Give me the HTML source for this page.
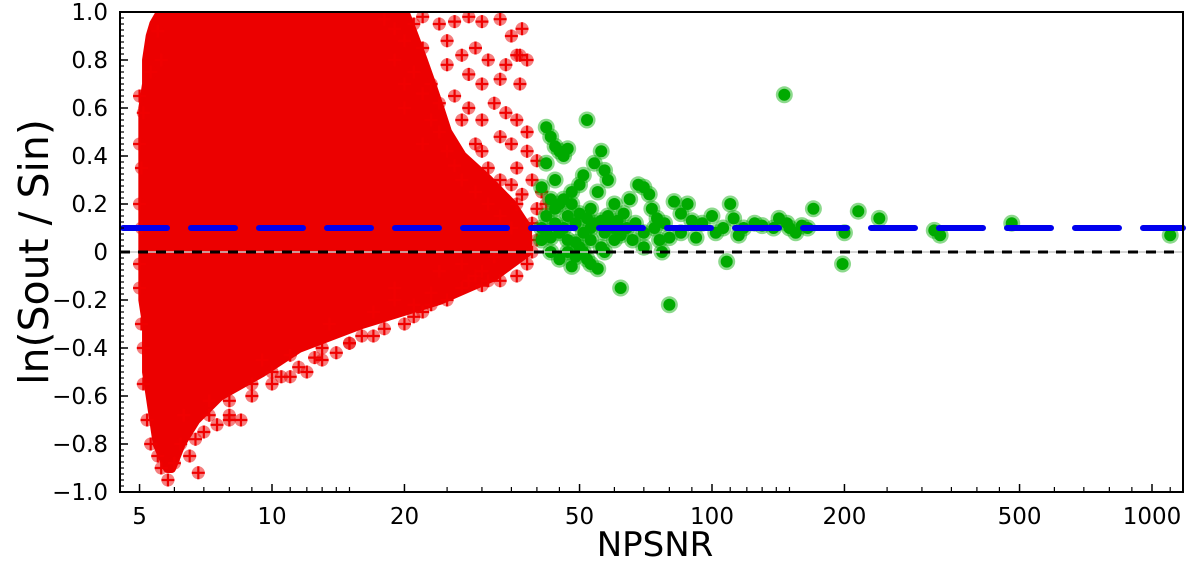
<!DOCTYPE html>
<html><head><meta charset="utf-8"><style>
html,body{margin:0;padding:0;background:#fff;}
svg{display:block;font-family:"DejaVu Sans","Liberation Sans",sans-serif;}
</style></head><body>
<svg id="chart" width="1200" height="566" viewBox="0 0 1200 566" xmlns="http://www.w3.org/2000/svg">
<defs><clipPath id="plotclip"><rect x="120" y="12" width="1063" height="480"/></clipPath></defs>
<g id="envelope" clip-path="url(#plotclip)"></g>
<g id="red" clip-path="url(#plotclip)"></g>
<g id="green" clip-path="url(#plotclip)"></g>
<g id="lines"></g>
<g id="axes"></g>
<text x="655" y="556" font-size="34" text-anchor="middle">NPSNR</text>
<text transform="translate(48,252) rotate(-90)" font-size="41" text-anchor="middle">ln(Sout / Sin)</text>
</svg>
<script>
const xMajorTicks=[5,10,20,50,100,200,500,1000];
const xMinorTicks=[6,7,8,9,11,12,13,14,15,25,30,35,40,45,60,70,80,90,110,120,130,140,150,250,300,350,400,450,600,700,800,900,1100];
const yMajorTicks=[-1.0,-0.8,-0.6,-0.4,-0.2,0,0.2,0.4,0.6,0.8,1.0];
const yTickLabels=["\u22121.0","\u22120.8","\u22120.6","\u22120.4","\u22120.2","0","0.2","0.4","0.6","0.8","1.0"];
const envVal=[1.0,0.95,0.9,0.8,0.7,0.6,0.5,0.4,0.3,0.2,0.1,0.0,-0.1,-0.2,-0.3,-0.4,-0.5,-0.6,-0.7,-0.8,-0.9];
const envLo=[5.6,5.4,5.3,5.2,5.2,5.1,5.1,5.1,5.1,5.1,5.1,5.1,5.1,5.1,5.2,5.2,5.2,5.3,5.4,5.5,5.8];
const envHi=[20,20.5,21,22,23,24,25,27,31,35,38,38,32,24,16,11.5,9.5,7.6,6.7,6.2,5.9];
const redX=[22,24,26,28,30,33,35,37,22,25,27,29,31,34,36,33,30,28,26,32,34,36,30,38,33,35,38,40,36,39,41,42,37,35,30,28,25,23,36.6,36.6,38,
38,36,33,30,28,25,22,20,18,16,14,13,12,11,10,9,8.5,8,7.5,7,6.8,6.5,6.2,6,5.8,5.6,5.5,6.3,7.2,9.5,11,13.5,17,19,24,27,32,39,40,39,40,
5.0,5.1,5.0,5.05,5.0,5.05,5.0,5.0,5.05,5.1,5.1,5.2,5.3,5.5,5.6,5.3,12.5,15,8,10.5,19,21,23,29,31,
18,19,20,21,19,21,22,20,23,24,22,25,26,27,29,31,33,35,20,24,27,29,31,33,36,
30,27,23,21,17,15,13,11.5,10,9,8,7.2,6.7];
const redY=[0.98,0.95,0.96,0.98,0.96,0.97,0.9,0.93,0.85,0.88,0.82,0.85,0.8,0.78,0.82,0.72,0.7,0.74,0.65,0.62,0.58,0.55,0.55,0.5,0.48,0.45,0.42,0.38,0.35,0.3,0.25,0.2,0.24,0.28,0.42,0.6,0.78,0.7,0.82,0.7,0.8,
-0.05,-0.1,-0.12,-0.14,-0.12,-0.2,-0.25,-0.3,-0.32,-0.35,-0.42,-0.45,-0.5,-0.52,-0.55,-0.6,-0.7,-0.7,-0.72,-0.75,-0.92,-0.85,-0.8,-0.88,-0.95,-0.9,-0.85,-0.68,-0.62,-0.45,-0.43,-0.3,-0.25,-0.15,-0.08,-0.05,-0.02,0.0,0.05,0.12,0.18,
0.65,0.58,0.45,0.35,0.2,0.1,-0.05,-0.15,-0.3,-0.4,-0.55,-0.7,-0.8,0.92,0.8,0.75,-0.44,-0.38,-0.68,-0.52,-0.2,-0.22,-0.17,-0.1,-0.12,
0.97,0.93,0.88,0.95,0.8,0.75,0.66,0.6,0.55,0.5,0.45,0.42,0.36,0.3,0.25,0.2,0.15,0.1,0.7,0.62,0.55,0.45,0.35,0.3,0.2,
-0.08,-0.15,-0.22,-0.27,-0.35,-0.38,-0.4,-0.48,-0.5,-0.55,-0.62,-0.68,-0.78];
const greenX=[42,43,44,45,46,47,42,44,41,43,45,48,50,52,51,54,56,57,58,55,53,47,44,42,41,43,45,48,50,52,55,57,60,62,46,49,51,53,56,58,60,63,65,68,70,72,73,75,78,80,82,85,88,80,77,70,66,64,90,95,100,102,106,108,110,112,118,125,130,138,142,148,150,155,160,170,165,198,200,215,240,320,330,480,1100,146,60,62,67,85,92,115,47,49,53,56,
42,44,46,48,50,52,54,41,43,45,47,49,51,53,57,59,61,70,74,76];
const greenY=[0.52,0.48,0.44,0.42,0.40,0.43,0.37,0.30,0.27,0.22,0.2,0.25,0.28,0.55,0.32,0.37,0.42,0.34,0.30,0.25,0.18,0.15,0.12,0.08,0.05,0.0,-0.03,-0.06,0.02,-0.03,-0.07,0.0,0.05,-0.15,0.1,0.12,0.08,0.1,0.13,0.15,0.2,0.16,0.22,0.28,0.27,0.24,0.18,0.14,0.12,0.06,0.21,0.16,0.2,-0.22,0.0,0.02,0.05,0.1,0.13,0.12,0.15,0.08,0.1,-0.04,0.2,0.14,0.1,0.12,0.11,0.1,0.14,0.12,0.1,0.08,0.11,0.18,0.1,-0.05,0.08,0.17,0.14,0.09,0.07,0.12,0.07,0.655,0.1,0.07,0.12,0.08,0.06,0.07,0.05,-0.02,0.05,0.02,
0.15,0.18,0.22,0.2,0.16,0.14,0.12,0.1,0.06,0.08,0.0,0.04,0.0,-0.05,0.08,0.11,0.13,0.08,0.1,0.05];
const blueLevel=0.1, zeroLevel=0;

const NS="http://www.w3.org/2000/svg";
const X0=120,X1=1183,Y0=12,Y1=492;
function xs(v){return 272+440*Math.log10(v/10);}
function ys(v){return 252-240*v;}
function mk(tag,attrs,parent){const e=document.createElementNS(NS,tag);for(const k in attrs)e.setAttribute(k,attrs[k]);parent.appendChild(e);return e;}

const envG=document.getElementById('envelope');
let pts=[];
for(let i=0;i<envVal.length;i++)pts.push(xs(envHi[i])+','+ys(envVal[i]));
for(let i=envVal.length-1;i>=0;i--)pts.push(xs(envLo[i])+','+ys(envVal[i]));
const poly=mk('polygon',{points:pts.join(' '),fill:'#ec0000','stroke':'#ec0000','stroke-width':10,'stroke-linejoin':'round'},envG);



const redG=document.getElementById('red');
for(let i=0;i<redX.length;i++){
  const cx=xs(redX[i]),cy=ys(redY[i]);
  const g=mk('g',{},redG);
  
  
  mk('circle',{cx:cx,cy:cy,r:6.5,fill:'rgba(235,0,0,0.5)'},g);
  mk('path',{d:`M${cx-6.5},${cy}H${cx+6.5}M${cx},${cy-6.5}V${cy+6.5}`,stroke:'#f00000','stroke-width':2.2},g);
}
const greenG=document.getElementById('green');
for(let i=0;i<greenX.length;i++){
  const cx=xs(greenX[i]),cy=ys(greenY[i]);
  const g=mk('g',{},greenG);
  
  
  mk('circle',{cx:cx,cy:cy,r:8.5,fill:'rgba(0,170,0,0.45)'},g);
  mk('circle',{cx:cx,cy:cy,r:6,fill:'#00aa00'},g);
}
const L=document.getElementById('lines');
mk('line',{x1:X0,x2:X1,y1:ys(zeroLevel),y2:ys(zeroLevel),stroke:'#c8c8c8','stroke-width':1.5},L);
const zl=mk('line',{x1:X0,x2:X1,y1:ys(zeroLevel),y2:ys(zeroLevel),stroke:'#000','stroke-width':3,'stroke-dasharray':'10 8'},L);


const bl=mk('line',{x1:X0+3,x2:X1,y1:ys(blueLevel),y2:ys(blueLevel),stroke:'#0000ee','stroke-width':6,'stroke-dasharray':'44 24','stroke-linecap':'round'},L);



const A=document.getElementById('axes');
const frame=mk('rect',{x:X0,y:Y0,width:X1-X0,height:Y1-Y0,fill:'none',stroke:'#000','stroke-width':2},A);


xMajorTicks.forEach(v=>{
  const x=xs(v);
  mk('line',{x1:x,x2:x,y1:Y1,y2:Y1-8,stroke:'#000','stroke-width':1.5},A);
  const t=mk('text',{x:x,y:Y1+32,'font-size':23,'text-anchor':'middle'},A);
  t.textContent=v;
  
  
});
xMinorTicks.forEach(v=>{const x=xs(v);mk('line',{x1:x,x2:x,y1:Y1,y2:Y1-5,stroke:'#000','stroke-width':1.2},A);});
for(let k=0;k<=80;k++){const v=-1+k*0.025;const y=ys(v);mk('line',{x1:X0,x2:X0+4,y1:y,y2:y,stroke:'#000','stroke-width':1.2},A);}
yMajorTicks.forEach((v,i)=>{
  const y=ys(v);
  mk('line',{x1:X0,x2:X0+8,y1:y,y2:y,stroke:'#000','stroke-width':1.5},A);
  const t=mk('text',{x:X0-12,y:y+8,'font-size':23,'text-anchor':'end'},A);
  t.textContent=yTickLabels[i];
  
  
});
</script>
</body></html>
